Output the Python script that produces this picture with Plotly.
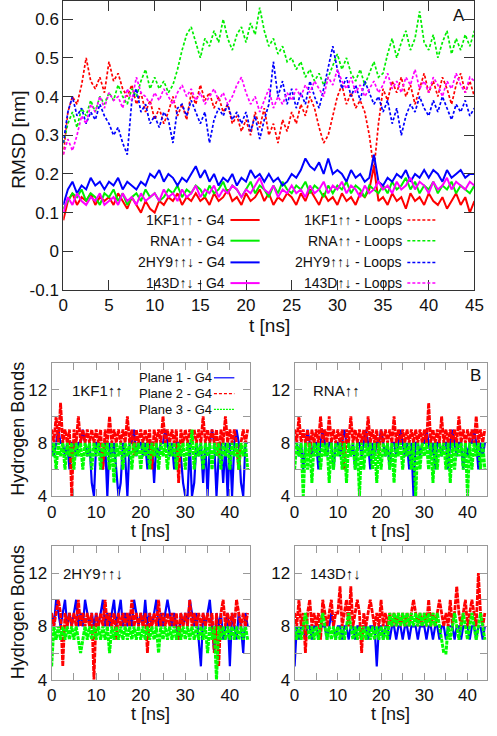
import plotly.graph_objects as go

# ---------------- Panel A data (RMSD, nm), sampled every 0.5 ns, 0..45 ns ----------------
t_rmsd = [i / 2 for i in range(91)]

kf1_g4 = [0.08,0.13,0.15,0.12,0.14,0.13,0.15,0.12,0.14,0.13,
          0.14,0.12,0.15,0.13,0.11,0.14,0.12,0.10,0.13,0.11,
          0.10,0.13,0.12,0.14,0.13,0.15,0.12,0.14,0.13,0.15,
          0.13,0.14,0.12,0.15,0.13,0.14,0.16,0.13,0.14,0.12,
          0.15,0.13,0.14,0.16,0.13,0.15,0.12,0.14,0.13,0.15,
          0.14,0.12,0.15,0.13,0.16,0.14,0.12,0.15,0.13,0.14,
          0.12,0.15,0.13,0.14,0.12,0.15,0.14,0.16,0.22,0.13,
          0.14,0.12,0.15,0.13,0.14,0.11,0.15,0.13,0.14,0.12,
          0.15,0.13,0.12,0.14,0.11,0.13,0.15,0.12,0.14,0.10,
          0.13]
rna_g4 = [0.11,0.13,0.15,0.14,0.16,0.13,0.15,0.14,0.12,0.15,
          0.14,0.16,0.13,0.15,0.12,0.14,0.15,0.13,0.16,0.14,
          0.15,0.13,0.14,0.16,0.15,0.17,0.14,0.16,0.15,0.17,
          0.16,0.14,0.17,0.15,0.16,0.18,0.15,0.17,0.16,0.14,
          0.16,0.18,0.15,0.17,0.16,0.14,0.17,0.15,0.18,0.16,
          0.15,0.17,0.16,0.18,0.15,0.17,0.16,0.14,0.17,0.15,
          0.17,0.16,0.18,0.15,0.17,0.16,0.14,0.17,0.16,0.15,
          0.17,0.15,0.18,0.16,0.17,0.19,0.16,0.18,0.15,0.17,
          0.16,0.18,0.15,0.17,0.16,0.18,0.15,0.17,0.16,0.15,
          0.17]
hy9_g4 = [0.12,0.16,0.18,0.15,0.17,0.16,0.19,0.17,0.18,0.16,
          0.18,0.17,0.19,0.16,0.18,0.17,0.16,0.18,0.17,0.20,
          0.19,0.21,0.18,0.20,0.19,0.17,0.19,0.18,0.20,0.22,
          0.19,0.21,0.18,0.20,0.17,0.19,0.18,0.20,0.17,0.19,
          0.18,0.21,0.19,0.20,0.18,0.20,0.18,0.19,0.17,0.18,
          0.20,0.19,0.21,0.24,0.22,0.21,0.23,0.20,0.24,0.20,
          0.21,0.20,0.18,0.21,0.19,0.20,0.18,0.19,0.25,0.18,
          0.17,0.19,0.18,0.20,0.19,0.21,0.18,0.20,0.19,0.21,
          0.19,0.21,0.20,0.18,0.21,0.19,0.20,0.21,0.19,0.20,
          0.20]
d143_g4 = [0.10,0.14,0.12,0.15,0.13,0.12,0.14,0.13,0.15,0.12,
           0.13,0.14,0.12,0.15,0.13,0.14,0.12,0.15,0.13,0.14,
           0.15,0.13,0.16,0.14,0.15,0.13,0.16,0.14,0.15,0.17,
           0.14,0.16,0.15,0.17,0.14,0.16,0.15,0.17,0.16,0.14,
           0.16,0.15,0.17,0.19,0.16,0.15,0.17,0.14,0.16,0.15,
           0.17,0.15,0.16,0.14,0.17,0.15,0.16,0.18,0.15,0.17,
           0.16,0.18,0.15,0.17,0.16,0.14,0.17,0.15,0.16,0.18,
           0.16,0.17,0.15,0.18,0.16,0.17,0.19,0.16,0.18,0.17,
           0.15,0.18,0.16,0.17,0.19,0.16,0.18,0.17,0.16,0.18,
           0.17]
kf1_loops = [0.25,0.36,0.40,0.38,0.43,0.50,0.44,0.42,0.45,0.41,
             0.49,0.44,0.46,0.42,0.40,0.43,0.38,0.41,0.36,0.39,
             0.34,0.37,0.33,0.36,0.40,0.35,0.38,0.34,0.41,0.38,
             0.43,0.39,0.41,0.37,0.40,0.36,0.38,0.33,0.35,0.31,
             0.34,0.30,0.36,0.32,0.37,0.30,0.33,0.28,0.34,0.31,
             0.36,0.33,0.38,0.35,0.40,0.37,0.32,0.28,0.30,0.35,
             0.40,0.43,0.38,0.41,0.37,0.39,0.36,0.30,0.21,0.33,
             0.42,0.39,0.44,0.41,0.45,0.40,0.43,0.38,0.42,0.46,
             0.41,0.44,0.40,0.45,0.42,0.38,0.43,0.46,0.41,0.44,
             0.40]
rna_loops = [0.28,0.33,0.36,0.32,0.37,0.35,0.39,0.36,0.40,0.38,
             0.41,0.39,0.43,0.40,0.38,0.42,0.40,0.44,0.47,0.42,
             0.45,0.42,0.44,0.41,0.43,0.47,0.52,0.56,0.58,0.54,
             0.50,0.55,0.53,0.57,0.54,0.60,0.55,0.52,0.56,0.58,
             0.54,0.59,0.56,0.63,0.57,0.53,0.55,0.51,0.53,0.49,
             0.50,0.47,0.49,0.45,0.47,0.44,0.46,0.43,0.45,0.48,
             0.51,0.47,0.50,0.46,0.44,0.47,0.43,0.46,0.49,0.45,
             0.46,0.51,0.55,0.50,0.54,0.57,0.52,0.55,0.62,0.54,
             0.52,0.56,0.50,0.54,0.57,0.51,0.55,0.52,0.56,0.53,
             0.57]
hy9_loops = [0.28,0.36,0.40,0.35,0.37,0.33,0.36,0.34,0.38,0.35,
             0.33,0.30,0.32,0.28,0.25,0.39,0.42,0.36,0.38,0.33,
             0.35,0.32,0.36,0.34,0.28,0.37,0.38,0.35,0.39,0.36,
             0.33,0.36,0.28,0.34,0.37,0.35,0.38,0.34,0.36,0.33,
             0.36,0.31,0.35,0.29,0.34,0.38,0.49,0.40,0.44,0.38,
             0.42,0.37,0.41,0.38,0.44,0.40,0.37,0.42,0.48,0.53,
             0.47,0.42,0.45,0.40,0.43,0.39,0.44,0.41,0.38,0.40,
             0.36,0.39,0.33,0.37,0.30,0.35,0.38,0.36,0.40,0.37,
             0.35,0.39,0.36,0.40,0.37,0.34,0.38,0.36,0.39,0.35,
             0.37]
d143_loops = [0.25,0.29,0.26,0.30,0.35,0.33,0.38,0.36,0.40,0.37,
              0.41,0.39,0.40,0.37,0.42,0.39,0.45,0.41,0.40,0.38,
              0.41,0.39,0.42,0.40,0.38,0.41,0.43,0.40,0.42,0.39,
              0.41,0.38,0.40,0.42,0.39,0.41,0.38,0.40,0.43,0.45,
              0.41,0.38,0.40,0.36,0.39,0.42,0.37,0.40,0.38,0.41,
              0.39,0.42,0.40,0.43,0.41,0.44,0.42,0.40,0.45,0.43,
              0.47,0.44,0.42,0.45,0.41,0.43,0.40,0.42,0.44,0.41,
              0.43,0.46,0.42,0.44,0.41,0.45,0.43,0.47,0.42,0.44,
              0.41,0.45,0.43,0.40,0.44,0.42,0.46,0.43,0.41,0.45,
              0.44]

rmsd_labels = ["1KF1↑↑ - G4", "RNA↑↑ - G4", "2HY9↑↑↓ - G4", "143D↑↓ - G4",
               "1KF1↑↑ - Loops", "RNA↑↑ - Loops", "2HY9↑↑↓ - Loops", "143D↑↓ - Loops"]

# ---------------- Panel B data (hydrogen bonds), every 0.5 ns, 0..44 ns ----------------
t_hb = [i / 2 for i in range(89)]

kf1_p1 = [8,7,8,9,8,8,7,8,6,8, 8,7,8,8,9,8,7,8,5,4, 8,8,7,6,8,4,8,7,8,6,
          4,5,8,7,4,8,8,9,7,8, 8,7,8,6,8,8,5,8,7,8, 8,9,8,7,8,6,8,8,7,5,
          4,4,8,4,5,8,7,8,5,8, 4,8,9,8,4,7,8,5,8,4, 8,4,8,9,8,5,4,8,8]
kf1_p2 = [9,8,10,8,11,8,9,8,9,4, 9,8,10,8,9,8,9,8,9,8, 9,8,9,6,9,8,10,8,9,8,
          9,8,9,8,10,8,9,7,9,8, 9,8,9,8,9,6,9,8,9,8, 10,8,9,8,9,8,9,5,9,8,
          9,8,9,8,9,8,9,8,10,8, 9,8,9,8,9,7,9,8,10,8, 9,8,9,8,6,8,9,8,9]
kf1_p3 = [7,8,6,8,7,8,6,8,7,8, 6,8,7,8,6,8,7,8,6,8, 7,8,6,8,7,8,6,8,5,8,
          7,8,6,8,7,8,6,8,7,8, 6,8,7,8,6,8,7,8,6,8, 7,8,6,8,7,8,6,8,7,8,
          6,8,7,9,6,8,7,8,6,8, 7,8,6,8,7,8,6,8,7,8, 6,8,7,8,6,8,7,8,6]

rna_p1 = [8,8,7,8,6,8,9,8,7,8, 8,6,8,9,8,7,8,8,6,8, 8,7,8,9,8,8,7,8,6,8,
          8,7,8,9,8,6,8,7,8,8, 9,8,7,8,6,8,8,7,8,9, 8,7,8,6,8,4,8,8,7,8,
          8,9,8,7,8,6,8,8,7,8, 8,6,8,9,8,7,8,8,6,8, 7,8,8,9,8,6,8,7,8]
rna_p2 = [9,8,10,8,9,8,9,7,9,8, 9,8,10,8,9,8,10,8,9,8, 9,8,9,6,9,8,10,8,9,8,
          9,8,9,8,10,8,9,8,9,7, 9,8,9,8,9,8,10,8,9,8, 9,8,9,8,9,8,9,8,9,8,
          9,8,11,8,9,8,9,8,10,8, 9,8,9,8,9,8,10,8,9,8, 9,8,9,8,10,8,9,8,9]
rna_p3 = [6,8,7,8,4,8,6,8,5,8, 7,8,6,8,7,8,5,8,6,8, 7,8,6,8,5,8,7,8,6,8,
          4,8,6,8,7,8,6,8,5,8, 6,8,7,8,6,8,5,8,7,8, 6,8,7,8,6,8,4,8,6,8,
          7,8,6,8,5,8,6,8,7,8, 6,8,5,8,6,8,7,8,6,8, 4,8,6,8,7,8,6,8,6]

hy9_p1 = [9,8,10,9,8,9,10,8,9,8, 9,10,8,9,8,10,9,8,9,8, 9,8,9,10,8,9,8,9,10,8,
          9,10,8,9,8,9,8,10,9,8, 9,8,10,8,9,8,9,10,8,9, 8,9,10,9,8,9,8,7,9,8,
          9,8,10,9,8,9,7,5,9,8, 9,10,8,6,9,8,9,7,8,9, 5,9,8,7,9,8,6,9,8]
hy9_p2 = [9,8,9,10,9,5,9,8,9,8, 9,8,10,8,9,8,9,8,9,4, 9,8,9,8,10,8,9,8,9,7,
          9,8,9,8,9,8,10,8,9,8, 9,8,9,6,9,8,9,8,10,8, 9,8,9,8,9,8,9,7,9,8,
          9,8,10,8,9,8,9,8,9,8, 9,8,9,6,9,5,9,10,8,9, 8,9,8,10,9,8,9,8,9]
hy9_p3 = [5,8,7,8,7,8,7,8,7,8, 7,8,7,6,7,8,7,8,7,8, 7,8,7,8,7,8,6,8,7,8,
          7,8,7,8,7,8,7,8,7,8, 7,8,7,8,7,8,7,8,6,8, 7,8,7,8,7,8,7,8,7,8,
          7,8,7,8,7,8,7,8,7,8, 6,8,7,8,4,8,7,8,7,8, 7,8,7,8,7,8,7,8,7]

d143_p1 = [5,8,7,8,8,7,8,8,7,8, 8,7,8,8,8,7,8,9,8,7, 8,8,7,8,8,7,8,8,7,8,
           8,7,8,8,7,8,8,8,5,8, 8,7,8,8,7,8,8,7,8,8, 7,8,8,7,8,8,8,7,8,8,
           8,7,8,8,7,8,8,7,8,8, 7,8,8,8,7,8,8,7,8,8, 8,7,8,8,7,8,8,7,8]
d143_p2 = [9,8,10,8,9,6,9,10,8,9, 8,9,7,10,9,8,9,10,8,9, 9,11,8,9,10,8,11,8,9,10,
           9,6,9,8,9,10,9,8,9,8, 10,8,9,8,9,8,9,8,9,8, 9,8,9,8,9,10,9,8,9,8,
           9,8,10,8,9,8,9,10,9,8, 9,8,10,8,9,11,9,8,9,10, 8,9,10,9,8,12,9,8,9]
d143_p3 = [8,7,8,7,8,9,8,7,8,7, 8,7,8,9,8,7,8,7,8,7, 8,7,8,7,8,9,8,7,8,7,
           8,7,8,7,8,7,8,7,8,7, 8,7,8,7,9,8,9,8,9,8, 9,8,9,8,9,8,9,8,9,8,
           9,8,9,8,9,8,9,8,7,6, 6,8,7,8,9,8,7,8,9,8, 7,8,9,8,7,8,9,8,7]

hb_names = ["1KF1↑↑", "RNA↑↑", "2HY9↑↑↓", "143D↑↓"]
plane_labels = ["Plane 1 - G4", "Plane 2 - G4", "Plane 3 - G4"]

# ---------------- styling ----------------
W, H = 497, 736
FONT = "Liberation Sans, Arial, DejaVu Sans, sans-serif"
RED, GREEN, BLUE, MAG = "#ff0000", "#00ee00", "#0000ff", "#ff00ff"
HB_GREEN = "#00ff00"
cols = [RED, GREEN, BLUE, MAG]
LOOP_DASH = "3px,2px"


def px(x):
    return x / W


def py(y):
    return 1 - y / H


fig = go.Figure()

g4_series = [kf1_g4, rna_g4, hy9_g4, d143_g4]
loop_series = [kf1_loops, rna_loops, hy9_loops, d143_loops]

for ys, c in zip(loop_series, cols):
    fig.add_trace(go.Scatter(x=t_rmsd, y=ys, mode="lines",
                             line=dict(color=c, width=1.7, dash=LOOP_DASH),
                             xaxis="x", yaxis="y", showlegend=False, hoverinfo="skip"))
for ys, c in zip(g4_series, cols):
    fig.add_trace(go.Scatter(x=t_rmsd, y=ys, mode="lines",
                             line=dict(color=c, width=2),
                             xaxis="x", yaxis="y", showlegend=False, hoverinfo="skip"))

hb_sets = [(kf1_p1, kf1_p2, kf1_p3), (rna_p1, rna_p2, rna_p3),
           (hy9_p1, hy9_p2, hy9_p3), (d143_p1, d143_p2, d143_p3)]
plane_styles = [dict(color=BLUE, width=2.2),
                dict(color=RED, width=2.8, dash="5px,1px"),
                dict(color=HB_GREEN, width=3.0, dash="4px,1px")]
for k, planes in enumerate(hb_sets):
    ax = str(k + 2)
    for ys, st in zip(planes, plane_styles):
        fig.add_trace(go.Scatter(x=t_hb, y=ys, mode="lines", line=st,
                                 xaxis="x" + ax, yaxis="y" + ax,
                                 showlegend=False, hoverinfo="skip"))

axA = dict(showline=True, linecolor="#333", linewidth=1, mirror="allticks",
           ticks="inside", ticklen=10, tickcolor="#333", showgrid=False, zeroline=False,
           tickfont=dict(family=FONT, size=17, color="#111"))
layout = dict(
    width=W, height=H, margin=dict(l=0, r=0, t=0, b=0),
    paper_bgcolor="white", plot_bgcolor="white",
    font=dict(family=FONT, color="#111"),
    xaxis=dict(axA, domain=[px(60), px(483)], range=[0, 45], tickvals=list(range(0, 46, 5)),
               anchor="y"),
    yaxis=dict(axA, domain=[py(294), py(1)], range=[-0.1, 0.647],
               tickvals=[-0.1, 0, 0.1, 0.2, 0.3, 0.4, 0.5, 0.6],
               ticktext=["-0.1", "0", "0.1", "0.2", "0.3", "0.4", "0.5", "0.6"], anchor="x"),
)

axB = dict(showline=True, linecolor="#999", linewidth=1, mirror="allticks",
           ticks="inside", ticklen=7, tickcolor="#999", showgrid=False, zeroline=False,
           tickfont=dict(family=FONT, size=17, color="#111"))
boxes = [((48, 252), (368, 503)), ((298, 496), (368, 503)),
         ((48, 252), (554, 689)), ((298, 496), (554, 689))]
for k, ((x0, x1), (y0, y1)) in enumerate(boxes):
    ax = str(k + 2)
    layout["xaxis" + ax] = dict(axB, domain=[px(x0), px(x1)], range=[0, 44.5],
                                tickvals=list(range(0, 45, 5)),
                                ticktext=["0", "", "10", "", "20", "", "30", "", "40"],
                                anchor="y" + ax)
    layout["yaxis" + ax] = dict(axB, domain=[py(y1), py(y0)], range=[4, 14],
                                tickvals=[4, 6, 8, 10, 12, 14],
                                ticktext=["4", "", "8", "", "12", ""],
                                anchor="x" + ax)

fig.update_layout(**layout)

ann = []
shapes = []


def text(x, y, s, size, xanchor="center", angle=0):
    ann.append(dict(x=px(x), y=py(y), xref="paper", yref="paper", text=s, showarrow=False,
                    xanchor=xanchor, yanchor="middle", textangle=angle,
                    font=dict(family=FONT, size=size, color="#111")))


def sample(x0, x1, y, color, dash="solid", width=1.5):
    shapes.append(dict(type="line", xref="paper", yref="paper", x0=px(x0), x1=px(x1),
                       y0=py(y), y1=py(y), line=dict(color=color, width=width, dash=dash)))


# Panel A texts
text(13, 142, "RMSD [nm]", 19, angle=-90)
text(272, 330, "t [ns]", 19)
text(467, 16, "A", 17)
rows = [223, 244, 266, 287]
for i in range(4):
    text(228, rows[i], rmsd_labels[i], 14, xanchor="right")
    sample(232, 262, rows[i], cols[i], width=2)
    text(411, rows[i], rmsd_labels[4 + i], 14, xanchor="right")
    sample(414, 444, rows[i], cols[i], dash=LOOP_DASH, width=1.5)

# Panel B texts
text(484, 381, "B", 17)
for yc in (435, 621):
    text(13, yc, "Hydrogen Bonds", 18, angle=-90)
for xc, yc in ((150, 538), (397, 538), (150, 724), (397, 724)):
    text(xc, yc, "t [ns]", 18)
text(67, 396, hb_names[0], 15, xanchor="left")
text(315, 396, hb_names[1], 15, xanchor="left")
text(58, 581, hb_names[2], 15, xanchor="left")
text(312, 581, hb_names[3], 15, xanchor="left")
prow = [383, 399, 415]
pcols = [BLUE, RED, HB_GREEN]
pdash = ["solid", "3px,2px", "2px,1px"]
for i in range(3):
    text(215, prow[i], plane_labels[i], 13, xanchor="right")
    sample(215, 236, prow[i], pcols[i], dash=pdash[i], width=1.2)

fig.update_layout(annotations=ann, shapes=shapes)
fig.write_html("out.html", config={"displayModeBar": False},
               post_script="document.body.style.margin='0';")
